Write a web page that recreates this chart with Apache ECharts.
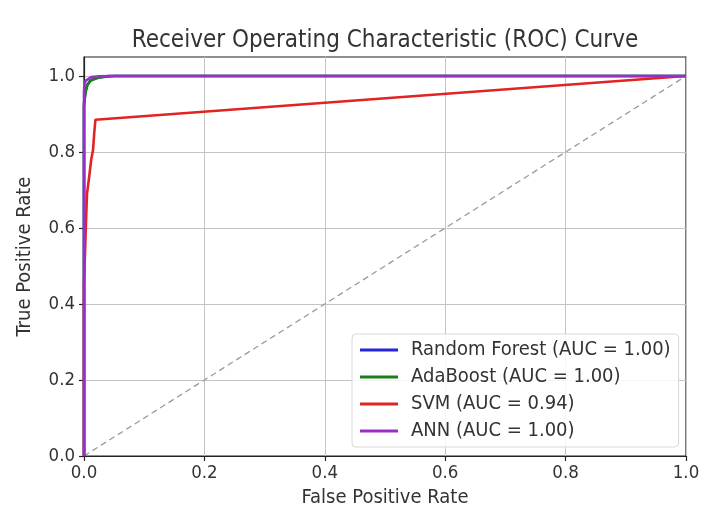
<!DOCTYPE html>
<html>
<head>
<meta charset="utf-8">
<script src="https://cdn.jsdelivr.net/npm/echarts@6/dist/echarts.min.js"></script>
<style>
  html, body { margin: 0; padding: 0; background: #fff; }
  #chart { width: 716px; height: 512px; }
</style>
</head>
<body>
<div id="chart"></div>
<script>
// ROC curves, values
const rfFpr  = [0, 0, 0.002, 0.005, 0.010, 0.020, 0.040, 1];
const rfTpr  = [0, 0.92, 0.955, 0.975, 0.987, 0.995, 1, 1];
const adaFpr = [0, 0, 0.003, 0.006, 0.012, 0.025, 0.050, 1];
const adaTpr = [0, 0.93, 0.960, 0.978, 0.989, 0.996, 1, 1];
const svmFpr = [0, 0, 0.002, 0.003, 0.005, 0.009, 0.012, 0.015, 0.017, 0.019, 1];
const svmTpr = [0, 0.45, 0.55, 0.60, 0.69, 0.74, 0.78, 0.805, 0.85, 0.885, 1];
const annFpr = [0, 0, 0.001, 0.003, 0.006, 0.012, 0.025, 0.050, 1];
const annTpr = [0, 0.96, 0.980, 0.988, 0.993, 0.997, 0.999, 1, 1];
const chanceFpr = [0, 1];
const chanceTpr = [0, 1];

const names = [
    'Random Forest (AUC = 1.00)',
    'AdaBoost (AUC = 1.00)',
    'SVM (AUC = 0.94)',
    'ANN (AUC = 1.00)'
];
const colors = ['#2424d8', '#1a7f1a', '#e02424', '#9a2fc8'];
const xTicks = [0, 0.2, 0.4, 0.6, 0.8, 1.0];
const yTicks = [0, 0.2, 0.4, 0.6, 0.8, 1.0];

const FONT = "'DejaVu Sans Condensed', 'DejaVu Sans', sans-serif";
const pair = (xs, ys) => xs.map((x, i) => [x, ys[i]]);

const curves = [
    pair(rfFpr, rfTpr),
    pair(adaFpr, adaTpr),
    pair(svmFpr, svmTpr),
    pair(annFpr, annTpr)
];

const axisCommon = {
    type: 'value',
    min: 0,
    axisLine: { show: true, lineStyle: { color: '#222', width: 1.2 } },
    axisTick: { show: true, length: 5, lineStyle: { color: '#222', width: 1.2 } },
    axisLabel: {
        color: '#333',
        fontFamily: FONT,
        fontSize: 18.5,
        formatter: v => v.toFixed(1)
    },
    splitLine: { show: true, lineStyle: { color: '#c4c4c4', width: 1 } },
    nameLocation: 'middle',
    nameTextStyle: { color: '#333', fontFamily: FONT, fontSize: 20 }
};

const series = curves.map((d, i) => ({
    name: names[i],
    type: 'line',
    data: d,
    showSymbol: false,
    smooth: false,
    lineStyle: { color: colors[i], width: 2.6 },
    itemStyle: { color: colors[i] },
    z: 3 + i
}));
series.push({
    name: 'chance',
    type: 'line',
    data: pair(chanceFpr, chanceTpr),
    showSymbol: false,
    lineStyle: { color: '#9a9a9a', width: 1.3, type: [6, 4] },
    z: 2
});

const chart = echarts.init(document.getElementById('chart'));
chart.setOption({
    animation: false,
    backgroundColor: '#fff',
    title: {
        text: 'Receiver Operating Characteristic (ROC) Curve',
        left: 385,
        top: 29,
        padding: 0,
        textAlign: 'center',
        textStyle: { color: '#333', fontFamily: FONT, fontSize: 24, fontWeight: 'normal' }
    },
    grid: {
        left: 84, right: 30, top: 57, bottom: 56,
        show: true,
        borderColor: '#222',
        borderWidth: 1.2,
        containLabel: false,
        outerBoundsMode: 'none'
    },
    xAxis: Object.assign({}, axisCommon, {
        max: 1,
        interval: 0.2,
        name: 'False Positive Rate',
        nameGap: 31,
        axisTick: Object.assign({}, axisCommon.axisTick, { customValues: xTicks }),
        axisLabel: Object.assign({}, axisCommon.axisLabel, { customValues: xTicks, margin: 8 }),
        splitLine: axisCommon.splitLine
    }),
    yAxis: Object.assign({}, axisCommon, {
        max: 1.05,
        interval: 0.2,
        name: 'True Positive Rate',
        nameGap: 49,
        axisTick: Object.assign({}, axisCommon.axisTick, { customValues: yTicks }),
        axisLabel: Object.assign({}, axisCommon.axisLabel, { customValues: yTicks, margin: 9 }),
        splitLine: axisCommon.splitLine
    }),
    legend: {
        data: names,
        orient: 'vertical',
        left: 352,
        top: 334,
        padding: [6, 8, 6, 8],
        itemGap: 7,
        itemWidth: 38,
        itemHeight: 3,
        icon: 'rect',
        backgroundColor: 'rgba(255,255,255,0.85)',
        borderColor: '#d8d8d8',
        borderWidth: 1,
        borderRadius: 4,
        selectedMode: false,
        textStyle: { color: '#333', fontFamily: FONT, fontSize: 20, padding: [0, 0, 0, 8] }
    },
    series: series
});
</script>
</body>
</html>
